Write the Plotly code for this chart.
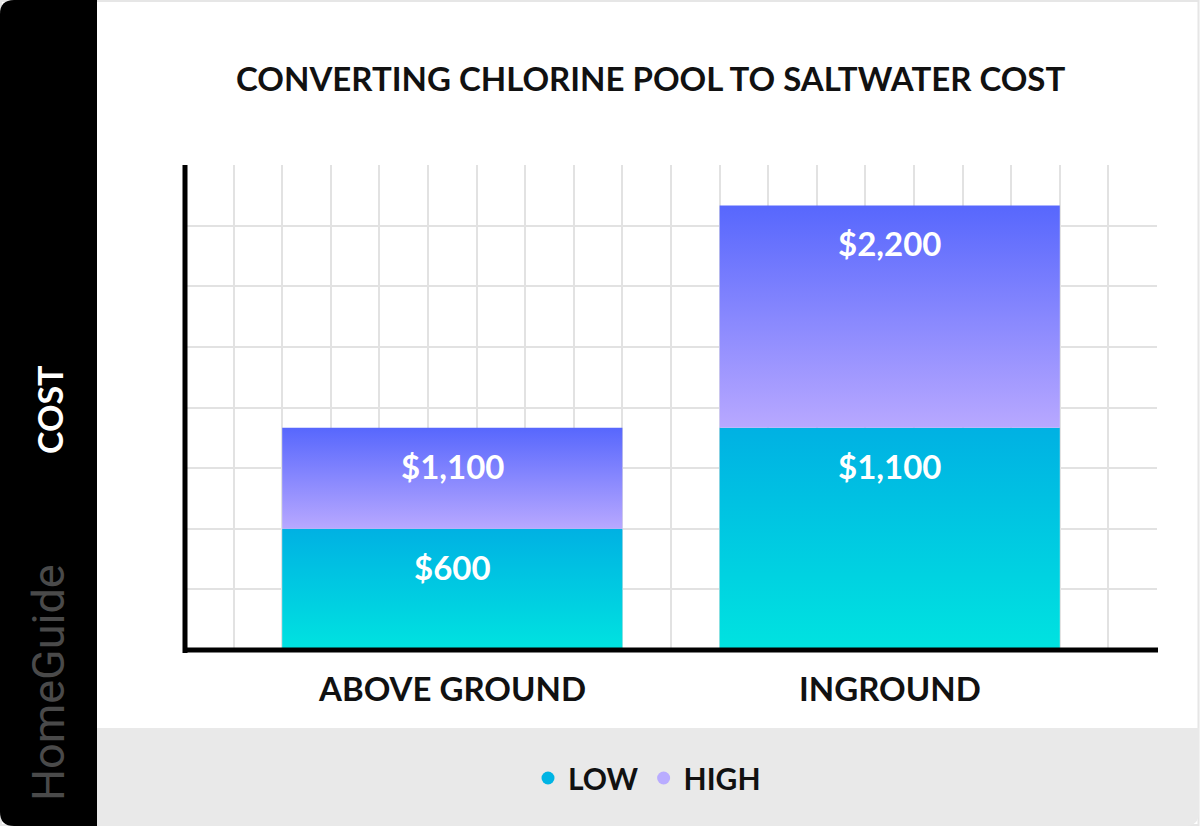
import plotly.graph_objects as go

# ---- data ----
categories = ["ABOVE GROUND", "INGROUND"]
low_cost = [600, 1100]
high_cost = [1100, 2200]
series_names = ["LOW", "HIGH"]
title_text = "CONVERTING CHLORINE POOL TO SALTWATER COST"
y_label = "COST"

# ---- styling / layout constants ----
W, H = 1200, 826
PL, PR, PT, PB = 185, 1157, 165, 650      # plot area in pixels
bar_centers = [5.5, 14.5]                 # positions on the 0..20 grid axis
bar_width = 7
low_colors = ["#00e3e0", "#00b1e3"]       # bottom -> top
high_colors = ["#b8a8ff", "#5767fd"]
low_dot, high_dot = "#00b4e4", "#b9acff"
FONT = "Lato"


def px(x):
    return (x - PL) / (PR - PL)


def py(y):
    return (PB - y) / (PB - PT)


fig = go.Figure()


def seg(xc, y0, y1, colors, name):
    x0, x1 = xc - bar_width / 2, xc + bar_width / 2
    return go.Scatter(
        x=[x0, x0, x1, x1, x0], y=[y0, y1, y1, y0, y0],
        mode="lines", fill="toself",
        line=dict(width=0, color="rgba(0,0,0,0)"),
        fillgradient=dict(type="vertical",
                          colorscale=[[0, colors[0]], [1, colors[1]]]),
        showlegend=False, hoverinfo="skip", name=name,
    )


for i, cat in enumerate(categories):
    fig.add_trace(seg(bar_centers[i], 0, low_cost[i], low_colors, "LOW"))
    fig.add_trace(seg(bar_centers[i], low_cost[i], high_cost[i], high_colors, "HIGH"))

# legend entries
for name, col in zip(series_names, [low_dot, high_dot]):
    fig.add_trace(go.Scatter(x=[None], y=[None], mode="markers", name=name,
                             marker=dict(color=col, size=13, symbol="circle")))

annotations = []
# value labels
for i in range(len(categories)):
    for val in (low_cost[i], high_cost[i]):
        annotations.append(dict(
            x=bar_centers[i], y=val, xref="x", yref="y", yshift=-38,
            text=f"${val:,}", showarrow=False, yanchor="middle",
            font=dict(family=FONT, size=33, color="white", weight="bold")))
# category labels
for i, cat in enumerate(categories):
    annotations.append(dict(
        x=bar_centers[i], y=py(688), xref="x", yref="paper",
        text=cat, showarrow=False, yanchor="middle",
        font=dict(family=FONT, size=33, color="#111111", weight="bold")))
# title
annotations.append(dict(
    x=px(650), y=py(78), xref="paper", yref="paper", text=title_text,
    showarrow=False, xanchor="center", yanchor="middle",
    font=dict(family=FONT, size=33, color="#111111", weight="bold")))
# y label
annotations.append(dict(
    x=px(49), y=py(410), xref="paper", yref="paper", text=y_label,
    textangle=-90, showarrow=False, xanchor="center", yanchor="middle",
    font=dict(family=FONT, size=34, color="white", weight="bold")))
# watermark
annotations.append(dict(
    x=px(48), y=py(683), xref="paper", yref="paper", text="HomeGuide",
    textangle=-90, showarrow=False, xanchor="center", yanchor="middle",
    font=dict(family="Roboto", size=45, color="#4a4a4a")))

# background shapes
r = 14
bx0, bx1, by0, by1 = 0, 97, 0, 826
black_path = (f"M {px(bx1)},{py(by0)} L {px(bx0 + r)},{py(by0)} "
              f"Q {px(bx0)},{py(by0)} {px(bx0)},{py(by0 + r)} "
              f"L {px(bx0)},{py(by1 - r)} Q {px(bx0)},{py(by1)} {px(bx0 + r)},{py(by1)} "
              f"L {px(bx1)},{py(by1)} Z")
gx0, gx1, gy0, gy1 = 97, 1199, 728, 826
gray_path = (f"M {px(gx0)},{py(gy0)} L {px(gx1)},{py(gy0)} "
             f"L {px(gx1)},{py(gy1 - r)} Q {px(gx1)},{py(gy1)} {px(gx1 - r)},{py(gy1)} "
             f"L {px(gx0)},{py(gy1)} Z")
shapes = [
    dict(type="rect", xref="paper", yref="paper", x0=px(1), x1=px(1198.5),
         y0=py(1), y1=py(825), line=dict(color="#e6e6e6", width=2),
         fillcolor="white", layer="below"),
    dict(type="path", xref="paper", yref="paper", path=gray_path,
         fillcolor="#e9e9e9", line=dict(width=0), layer="below"),
    dict(type="path", xref="paper", yref="paper", path=black_path,
         fillcolor="black", line=dict(width=0), layer="below"),
    # axis lines (centred on the plot edges)
    dict(type="line", xref="paper", yref="paper", x0=0, x1=0,
         y0=py(653), y1=1, line=dict(color="black", width=5), layer="above"),
    dict(type="line", xref="paper", yref="paper", x0=px(183), x1=px(1158),
         y0=0, y1=0, line=dict(color="black", width=5), layer="above"),
]

fig.update_layout(
    width=W, height=H,
    margin=dict(l=PL, r=W - PR, t=PT, b=H - PB, pad=0),
    paper_bgcolor="white", plot_bgcolor="white",
    showlegend=True,
    legend=dict(orientation="h", x=px(647), y=py(778), xanchor="center",
                yanchor="middle", bgcolor="rgba(0,0,0,0)",
                font=dict(family=FONT, size=30, color="#111111", weight="bold"),
                itemclick=False, itemdoubleclick=False),
    xaxis=dict(range=[0, 20], dtick=1, tick0=0, showticklabels=False,
               showgrid=True, gridcolor="#e2e2e2", gridwidth=1.5,
               zeroline=False, showline=False, ticks="", fixedrange=True),
    yaxis=dict(range=[0, 2400], dtick=300, tick0=0, showticklabels=False,
               showgrid=True, gridcolor="#e2e2e2", gridwidth=1.5,
               zeroline=False, showline=False, ticks="", fixedrange=True),
    annotations=annotations, shapes=shapes,
)

fig.write_html("out.html", config={"displayModeBar": False},
               post_script="document.body.style.margin='0';"
                           "document.body.style.overflow='hidden';")
